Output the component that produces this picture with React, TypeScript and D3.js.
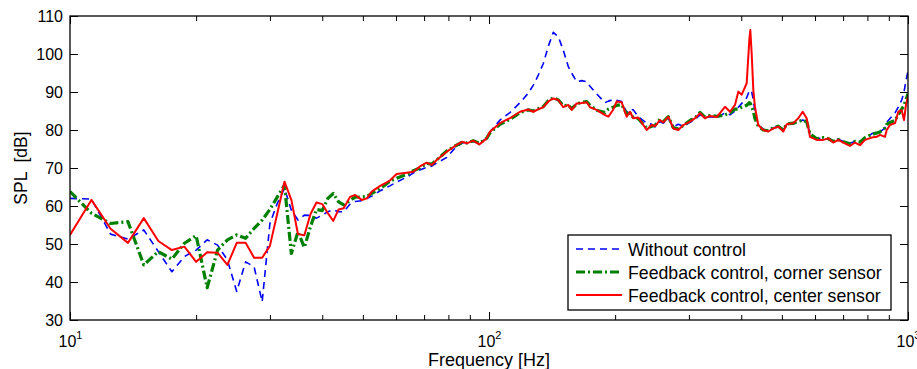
import React, { useRef, useEffect } from 'react';
import * as d3 from 'd3';

// frequency points [Hz]
const freqs = [
  10, 11.25, 12.5, 13.75, 15, 16.25, 17.5, 18.75, 20, 21.25, 22.5, 23.75, 25, 26.25, 27.5,
  28.75, 30, 31.25, 32.5, 33.75, 35, 36.25, 37.5, 38.75, 40, 41.25, 42.5, 43.75, 45,
  46.6, 47.9, 49.7, 51.1, 52.5, 55.0, 58.0, 60.2, 64.2, 66.0, 68.4, 71.0, 73.0, 75.0, 79.3,
  83.0, 86.1, 88.5, 91.7, 94.8, 98.7, 100.6, 106.2, 112.2, 118.6, 124.1, 127.6, 131.2, 134.8,
  138.5, 142.4, 146.4, 150.4, 154.6, 157.5, 161.9, 166.4, 171.1, 174.2, 180.7, 189.2, 192.7,
  198.0, 201.7, 207.3, 213.1, 217.0, 221.0, 227.1, 237.9, 244.5, 249.0, 255.9, 260.6, 267.9,
  275.4, 283.0, 290.9, 301.8, 310.2, 318.9, 327.7, 336.9, 349.5, 365.8, 376.0, 386.5, 393.6,
  401.0, 412.1, 418.1, 420.4, 423.6, 427.4, 431.3, 439.2, 451.4, 464.1, 477.0, 490.2, 503.9,
  513.4, 532.3, 547.2, 560.6, 573.0, 583.5, 605.4, 627.7, 645.3, 663.2, 681.7, 700.7, 727.0,
  747.3, 768.0, 789.5, 819.1, 842.0, 857.4, 881.2, 889.6, 905.7, 931.1, 948.0, 966.0, 978.3,
  989, 1000,
];

const withoutControl = [
  62.0, 61.8, 52.6, 51.3, 53.7, 48.0, 42.7, 46.7, 48.4, 51.1, 49.7, 45.8, 37.5, 45.3, 44.0,
  34.8, 55.4, 60.7, 64.6, 58.9, 56.3, 57.6, 57.5, 56.8, 57.6, 58.5, 59.0, 58.5, 58.5,
  60.5, 61.2, 61.4, 62.0, 62.6, 64.0, 65.3, 66.3, 67.8, 68.7, 69.5, 70.2, 70.5, 71.3, 72.8,
  75.3, 76.5, 76.9, 77.0, 76.5, 77.8, 79.5, 82.6, 84.6, 87.2, 89.7, 91.8, 94.5, 97.5,
  102.0, 105.7, 104.5, 101.0, 96.7, 95.0, 92.7, 93.0, 92.7, 91.5, 89.5, 87.2, 87.6,
  88.0, 87.8, 87.5, 84.6, 85.5, 85.3, 83.5, 81.8, 81.5, 80.8, 82.2, 81.8, 83.0,
  80.8, 81.5, 81.0, 82.0, 82.8, 84.0, 83.3, 83.5, 83.2, 84.5, 84.0, 85.0, 86.0,
  87.0, 88.5, 90.3, 90.5, 90.0, 88.0, 84.5, 81.5, 80.2, 79.8, 80.5, 81.0, 80.0,
  81.5, 81.6, 82.3, 82.6, 82.2, 79.0, 77.8, 77.8, 77.6, 77.2, 77.6, 77.0, 76.5,
  77.0, 76.8, 77.8, 79.0, 79.5, 79.5, 80.5, 82.0, 83.0, 84.5, 86.0, 87.9, 90.0,
  93.0, 95.5,
];

const cornerSensor = [
  63.8, 58.1, 55.4, 55.9, 44.5, 48.0, 46.0, 50.2, 52.2, 38.5, 48.4, 51.1, 52.4, 51.5, 54.1,
  56.3, 59.1, 62.4, 65.5, 47.5, 53.2, 49.1, 54.6, 59.1, 58.8, 62.0, 63.3, 61.1, 60.3,
  61.5, 62.3, 62.4, 62.5, 63.3, 64.6, 66.5, 67.3, 68.5, 69.3, 70.0, 71.2, 71.0, 72.1, 74.5,
  75.8, 76.7, 76.6, 77.2, 76.5, 77.8, 79.3, 81.5, 82.8, 84.6, 85.3, 85.0, 85.6, 86.2,
  87.7, 88.5, 87.9, 86.4, 86.5, 85.6, 86.8, 87.3, 87.5, 86.5, 85.2, 84.6, 85.5,
  86.0, 86.5, 86.7, 84.2, 84.5, 83.3, 83.0, 80.5, 81.0, 81.2, 82.8, 82.2, 83.5,
  80.6, 80.3, 81.2, 82.5, 83.2, 84.6, 83.4, 83.8, 83.6, 84.0, 84.5, 85.5, 85.5,
  86.0, 86.5, 87.2, 87.0, 86.0, 85.0, 83.0, 81.0, 80.0, 79.8, 80.6, 81.0, 80.0,
  81.6, 81.8, 82.2, 82.6, 82.2, 79.0, 77.7, 78.0, 77.7, 77.0, 77.5, 76.9, 76.4,
  77.0, 76.8, 78.0, 78.8, 79.2, 79.5, 80.5, 81.5, 82.0, 82.5, 84.0, 85.5, 86.5,
  88.0, 89.5,
];

const centerSensor = [
  52.4, 61.6, 54.0, 50.3, 56.8, 50.8, 48.4, 49.3, 45.3, 47.8, 47.7, 44.5, 50.3, 50.3, 46.4,
  46.4, 49.5, 58.1, 66.4, 61.6, 52.6, 52.3, 57.9, 60.9, 60.5, 58.1, 56.1, 59.1, 59.4,
  62.4, 62.9, 61.6, 62.0, 63.8, 65.3, 66.7, 68.4, 68.8, 69.0, 70.4, 71.4, 70.8, 72.1, 74.3,
  75.8, 76.9, 76.5, 77.2, 76.2, 77.8, 79.6, 81.8, 83.1, 84.8, 85.4, 84.8, 85.5, 86.0,
  87.5, 88.3, 87.9, 86.0, 86.6, 85.3, 87.0, 87.1, 87.3, 86.0, 85.3, 83.9, 83.5,
  85.4, 87.5, 87.3, 83.5, 84.8, 83.1, 83.3, 80.0, 81.3, 81.0, 82.6, 82.0, 83.5,
  80.4, 80.0, 81.3, 82.2, 83.1, 84.4, 83.1, 83.7, 83.4, 86.1, 84.8, 86.6, 90.1,
  89.3, 92.3, 103.7, 106.3, 100.0, 90.5, 86.1, 81.3, 80.0, 79.6, 80.4, 80.9, 79.6,
  81.5, 81.8, 83.1, 84.8, 83.1, 78.2, 77.4, 77.4, 77.8, 76.7, 77.4, 76.7, 75.8,
  76.7, 76.0, 77.4, 78.0, 78.2, 78.7, 78.2, 80.0, 81.3, 81.8, 84.8, 85.2, 82.6,
  86.6, 88.8,
];

const yTicks = [30, 40, 50, 60, 70, 80, 90, 100, 110];
const xMajor = [10, 100, 1000];
const xMinor = [20, 30, 40, 50, 60, 70, 80, 90, 200, 300, 400, 500, 600, 700, 800, 900];

const series = [
  { name: 'Without control', values: withoutControl, color: '#0000ff', width: 1.6, dash: '7,5' },
  { name: 'Feedback control, corner sensor', values: cornerSensor, color: '#008000', width: 3.2, dash: '9,3,2,3' },
  { name: 'Feedback control, center sensor', values: centerSensor, color: '#ff0000', width: 2, dash: null },
];

const FONT = "'Liberation Sans', Arial, Helvetica, sans-serif";

function App() {
  const ref = useRef(null);

  useEffect(() => {
    const svg = d3.select(ref.current);
    svg.selectAll('*').remove();

    const margin = { top: 16, left: 70, right: 9, bottom: 49 };
    const width = 917 - margin.left - margin.right;
    const height = 369 - margin.top - margin.bottom;

    const x = d3.scaleLog().domain([10, 1000]).range([0, width]);
    const y = d3.scaleLinear().domain([30, 110]).range([height, 0]);

    const g = svg.append('g').attr('transform', `translate(${margin.left},${margin.top})`);

    g.append('defs').append('clipPath').attr('id', 'plot-clip')
      .append('rect').attr('width', width).attr('height', height);

    // lines
    const line = d3.line().x(d => x(d[0])).y(d => y(d[1]));
    const plot = g.append('g').attr('clip-path', 'url(#plot-clip)');
    series.forEach(s => {
      plot.append('path')
        .datum(freqs.map((f, i) => [f, s.values[i]]))
        .attr('fill', 'none')
        .attr('stroke', s.color)
        .attr('stroke-width', s.width)
        .attr('stroke-dasharray', s.dash)
        .attr('stroke-linejoin', 'round')
        .attr('d', line);
    });

    // axes, ticks pointing inward on all four sides
    const styleAxis = sel => {
      sel.select('.domain').remove();
      sel.selectAll('line').attr('stroke', '#000').attr('stroke-width', 1);
      sel.selectAll('text').attr('fill', '#000').style('font-family', FONT).style('font-size', '16px');
    };

    g.append('g')
      .call(d3.axisLeft(y).tickValues(yTicks).tickSizeInner(-8).tickSizeOuter(0).tickPadding(7))
      .call(styleAxis);
    g.append('g').attr('transform', `translate(${width},0)`)
      .call(d3.axisRight(y).tickValues(yTicks).tickSizeInner(-8).tickSizeOuter(0).tickFormat(() => ''))
      .call(styleAxis);

    const bottomMajor = g.append('g').attr('transform', `translate(0,${height})`)
      .call(d3.axisBottom(x).tickValues(xMajor).tickSizeInner(-8).tickSizeOuter(0).tickFormat(() => ''))
      .call(styleAxis);
    g.append('g').attr('transform', `translate(0,${height})`)
      .call(d3.axisBottom(x).tickValues(xMinor).tickSizeInner(-5).tickSizeOuter(0).tickFormat(() => ''))
      .call(styleAxis);
    g.append('g')
      .call(d3.axisTop(x).tickValues(xMajor).tickSizeInner(-8).tickSizeOuter(0).tickFormat(() => ''))
      .call(styleAxis);
    g.append('g')
      .call(d3.axisTop(x).tickValues(xMinor).tickSizeInner(-5).tickSizeOuter(0).tickFormat(() => ''))
      .call(styleAxis);

    // 10^n labels
    bottomMajor.selectAll('.tick').append('text')
      .attr('y', 27)
      .attr('text-anchor', 'middle')
      .style('font-family', FONT)
      .style('font-size', '16px')
      .attr('fill', '#000')
      .each(function (d) {
        const t = d3.select(this);
        t.append('tspan').text('10');
        t.append('tspan').attr('dy', -8).style('font-size', '11px').text(Math.round(Math.log10(d)));
      });

    // box
    g.append('rect')
      .attr('width', width).attr('height', height)
      .attr('fill', 'none').attr('stroke', '#000').attr('stroke-width', 1.3);

    // axis titles
    g.append('text')
      .attr('x', width / 2).attr('y', height + 46)
      .attr('text-anchor', 'middle')
      .style('font-family', FONT).style('font-size', '18px')
      .text('Frequency [Hz]');
    g.append('text')
      .attr('transform', `translate(-43,${height / 2}) rotate(-90)`)
      .attr('text-anchor', 'middle')
      .style('font-family', FONT).style('font-size', '17.5px')
      .style('white-space', 'pre')
      .text('SPL  [dB]');

    // legend
    const legend = g.append('g').attr('transform', `translate(${498},${219})`);
    legend.append('rect')
      .attr('width', 323).attr('height', 75)
      .attr('fill', '#fff').attr('stroke', '#000').attr('stroke-width', 1.3);
    const item = legend.selectAll('.item').data(series).enter().append('g')
      .attr('transform', (d, i) => `translate(0,${14 + i * 23})`);
    item.append('line')
      .attr('x1', 8).attr('x2', 54)
      .attr('stroke', d => d.color)
      .attr('stroke-width', d => d.width)
      .attr('stroke-dasharray', d => d.dash);
    item.append('text')
      .attr('x', 60).attr('y', 6.5)
      .style('font-family', FONT).style('font-size', '17.7px')
      .text(d => d.name);
  }, []);

  return <svg ref={ref} width={917} height={369} style={{ position: 'absolute', left: 0, top: 0 }}></svg>;
}

export default App;
